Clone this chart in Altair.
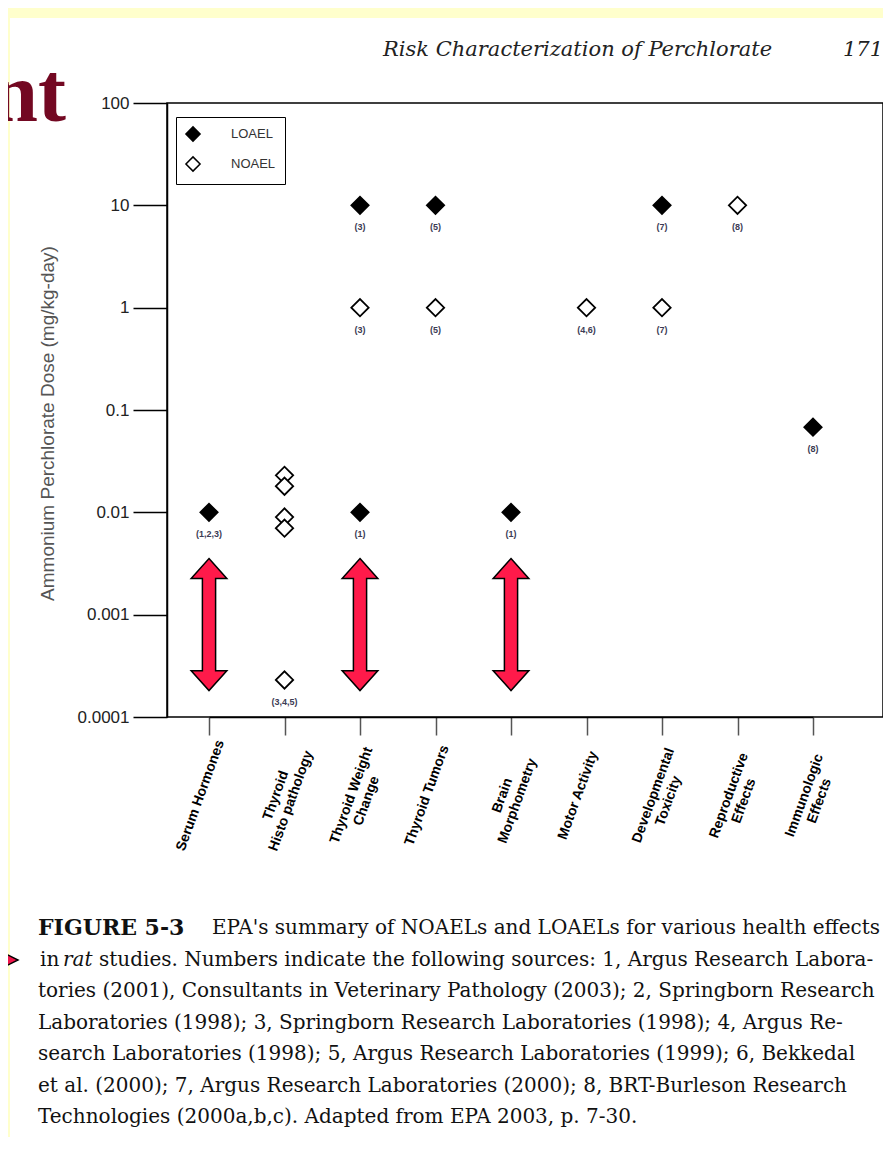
import altair as alt
import pandas as pd

# ---------------- data ----------------
CATEGORIES = [
    "Serum Hormones",
    "Thyroid|Histo pathology",
    "Thyroid Weight|Change",
    "Thyroid Tumors",
    "Brain|Morphometry",
    "Motor Activity",
    "Developmental|Toxicity",
    "Reproductive|Effects",
    "Immunologic|Effects",
]

PT_EFFECT = [
    "Serum Hormones",
    "Thyroid|Histo pathology", "Thyroid|Histo pathology", "Thyroid|Histo pathology",
    "Thyroid|Histo pathology", "Thyroid|Histo pathology",
    "Thyroid Weight|Change", "Thyroid Weight|Change", "Thyroid Weight|Change",
    "Thyroid Tumors", "Thyroid Tumors",
    "Brain|Morphometry",
    "Motor Activity",
    "Developmental|Toxicity", "Developmental|Toxicity",
    "Reproductive|Effects",
    "Immunologic|Effects",
]
PT_DOSE = [0.01, 0.023, 0.018, 0.009, 0.007, 0.00023, 10, 1, 0.01, 10, 1, 0.01, 1, 10, 1, 10, 0.068]
PT_TYPE = ["LOAEL", "NOAEL", "NOAEL", "NOAEL", "NOAEL", "NOAEL", "LOAEL", "NOAEL", "LOAEL",
           "LOAEL", "NOAEL", "LOAEL", "NOAEL", "LOAEL", "NOAEL", "NOAEL", "LOAEL"]
PT_LABEL = ["(1,2,3)", "", "", "", "", "(3,4,5)", "(3)", "(3)", "(1)", "(5)", "(5)", "(1)",
            "(4,6)", "(7)", "(7)", "(8)", "(8)"]

ARROW_EFFECT = ["Serum Hormones", "Thyroid Weight|Change", "Brain|Morphometry"]
ARROW_DOSE = [0.0008, 0.0008, 0.0008]

Y_TICKS = [0.0001, 0.001, 0.01, 0.1, 1, 10, 100]

HEADER = "Risk Characterization of Perchlorate"
PAGE_NO = "171"
CAPTION_BOLD = "FIGURE 5-3"
CAPTION_L1 = "EPA's summary of NOAELs and LOAELs for various health effects"
CAPTION_L2A = "in"
CAPTION_L2B = "rat"
CAPTION_L2C = "studies. Numbers indicate the following sources: 1, Argus Research Labora-"
CAPTION_REST = [
    "tories (2001), Consultants in Veterinary Pathology (2003); 2, Springborn Research",
    "Laboratories (1998); 3, Springborn Research Laboratories (1998); 4, Argus Re-",
    "search Laboratories (1998); 5, Argus Research Laboratories (1999); 6, Bekkedal",
    "et al. (2000); 7, Argus Research Laboratories (2000); 8, BRT-Burleson Research",
    "Technologies (2000a,b,c). Adapted from EPA 2003, p. 7-30.",
]

pts = pd.DataFrame({"effect": PT_EFFECT, "dose": PT_DOSE, "type": PT_TYPE, "label": PT_LABEL})
arrows = pd.DataFrame({"effect": ARROW_EFFECT, "dose": ARROW_DOSE})
one = pd.DataFrame({"a": [0]})

W, H = 716, 614

x_enc = alt.X(
    "effect:N",
    scale=alt.Scale(type="point", domain=CATEGORIES, range=[42, 646], padding=0),
    axis=alt.Axis(
        title=None, tickSize=18, tickColor="#555", tickWidth=1.5,
        domainColor="black", domainWidth=1.5,
        labelAngle=290, labelAlign="center", labelBaseline="middle",
        labelPadding=60, labelOffset=-9, labelOverlap=False, labelLimit=300,
        labelFont="Liberation Sans", labelFontSize=14, labelFontWeight="bold",
        labelColor="black", labelLineHeight=16,
        labelExpr="split(datum.label, '|')",
    ),
)
y_enc = alt.Y(
    "dose:Q",
    scale=alt.Scale(type="log", domain=[0.0001, 100], nice=False),
    axis=alt.Axis(
        values=Y_TICKS, format="~g", grid=False,
        tickSize=34, tickColor="black", tickWidth=1.5,
        domainColor="black", domainWidth=1.5,
        labelFont="Liberation Sans", labelFontSize=17, labelColor="#222", labelPadding=4,
        title="Ammonium Perchlorate Dose (mg/kg-day)",
        titleFont="Liberation Sans", titleFontSize=19, titleFontWeight="normal",
        titleColor="#555", titleAngle=270, titleX=-120, titleY=320,
        titleAlign="center", titleBaseline="middle",
    ),
)

points = alt.Chart(pts).mark_point(
    shape="diamond", filled=True, size=300, stroke="black", strokeWidth=1.8, opacity=1
).encode(
    x=x_enc, y=y_enc,
    fill=alt.Fill(
        "type:N",
        scale=alt.Scale(domain=["LOAEL", "NOAEL"], range=["black", "white"]),
        legend=alt.Legend(
            title=None, orient="none", legendX=9, legendY=14,
            strokeColor="black", fillColor="white", padding=9,
            symbolType="diamond", symbolSize=200, symbolStrokeColor="black",
            symbolStrokeWidth=1.5, labelFont="Liberation Sans", labelFontSize=13,
            labelOffset=30, rowPadding=8, labelColor="#333",
        ),
    ),
)

pt_labels = alt.Chart(pts).mark_text(
    dy=22, fontSize=9, fontWeight="bold", font="Liberation Sans", color="#3c3c55"
).encode(x=alt.X("effect:N"), y=alt.Y("dose:Q"), text="label:N")

ARROW_PATH = ("M0,-1 L0.27,-0.7 L0.1,-0.7 L0.1,0.7 L0.27,0.7 L0,1 "
              "L-0.27,0.7 L-0.1,0.7 L-0.1,-0.7 L-0.27,-0.7 Z")
arrow_layer = alt.Chart(arrows).mark_point(
    shape=ARROW_PATH, size=17424, filled=True, fill="#FF1A4A",
    stroke="black", strokeWidth=1.5, opacity=1
).encode(x=alt.X("effect:N"), y=alt.Y("dose:Q"))


def rect(x, x2, y, y2, color):
    return alt.Chart(one).mark_rect(color=color).encode(
        x=alt.value(x), x2=alt.value(x2), y=alt.value(y), y2=alt.value(y2))


def txt(s, x, y, size, font="DejaVu Serif", weight="normal", style="normal",
        color="#111", align="left", baseline="middle"):
    return alt.Chart(one).mark_text(
        text=s, font=font, fontSize=size, fontWeight=weight, fontStyle=style,
        color=color, align=align, baseline=baseline,
    ).encode(x=alt.value(x), y=alt.value(y))


# page decorations (plot coordinates = page - (167, 103))
deco = [
    rect(-159, 716, -95, -85, "#FFFFCC"),
    rect(-159, -157, -95, 1040, "#FFFFCC"),
    txt(HEADER, 216, -53, 21, style="italic", color="#222"),
    txt(PAGE_NO, 716, -53, 21, style="italic", color="#222", align="right"),
    txt("nt", -101, 18, 84, font="Liberation Serif", weight="bold", color="#730822",
        align="right", baseline="alphabetic"),
    txt(CAPTION_BOLD, -129, 825, 22, weight="bold"),
    txt(CAPTION_L1, 45, 825, 20),
    txt(CAPTION_L2A, -127, 856.5, 20),
    txt(CAPTION_L2B, -104, 856.5, 20, style="italic"),
    txt(CAPTION_L2C, -68, 856.5, 20),
]
for i, line in enumerate(CAPTION_REST):
    deco.append(txt(line, -129, 888 + 31.5 * i, 20))

pointer = alt.Chart(one).mark_point(
    shape="M-1,-1 L1,0 L-1,1 Z", size=1600, filled=True, fill="#F0144A",
    stroke="black", strokeWidth=1.5, opacity=1
).encode(x=alt.value(-169), y=alt.value(857))

chart = alt.layer(points, pt_labels, arrow_layer, *deco, pointer).properties(
    width=W, height=H,
    padding={"left": 159, "top": 95, "right": 0, "bottom": 420},
    autosize=alt.AutoSizeParams(type="none"),
    background="white",
).configure_view(stroke="black", strokeWidth=1.5)

chart.save("out.html", embed_options={"renderer": "svg", "actions": False})
